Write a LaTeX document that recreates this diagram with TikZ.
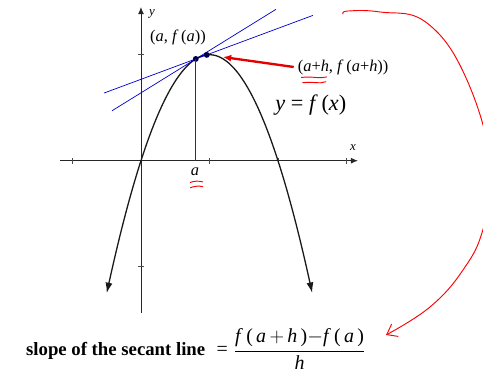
\documentclass[tikz,border=0pt]{standalone}
\usepackage{fontspec}
\setmainfont{Liberation Serif}
\usetikzlibrary{arrows.meta}
\tikzset{
  axisline/.style={line width=0.8pt, draw=black!85, -{Latex[length=6pt,width=5pt]}},
  axistick/.style={line width=0.6pt, draw=black!70},
  curveline/.style={line width=1.1pt, draw=black!90, {Latex[length=9pt,width=6pt]}-{Latex[length=9pt,width=6pt]}},
  chordline/.style={line width=0.6pt, draw=blue!80!black},
  dropline/.style={line width=0.5pt, draw=black!80},
  ptdot/.style={circle, fill=blue!30!black, inner sep=0pt, minimum size=5pt},
  ptlabel/.style={font=\fontsize{14}{16}\selectfont},
  axislabel/.style={font=\fontsize{11}{13}\selectfont\itshape},
  pointer/.style={line width=2pt, draw=red!90!black, -{Latex[length=7pt,width=6pt]}},
  markup/.style={line width=0.8pt, draw=red, line cap=round},
  swoop/.style={line width=0.8pt, draw=red, line cap=round, -{Straight Barb[length=8pt,width=12pt]}},
}
\begin{document}
\begin{tikzpicture}[x=2.055cm, y=3.18cm]
\useasboundingbox (-2.058,-2.031) rectangle (4.993,1.516);
\coordinate (xneg) at (-1.182,0);
\coordinate (xpos) at (3.168,0);
\coordinate (yneg) at (0,-1.437);
\coordinate (ypos) at (0,1.450);
\draw[axisline] (xneg) -- (xpos);
\draw[axisline] (yneg) -- (ypos);
\foreach \t in {-1,1,2,3} \draw[axistick] (\t,-0.028) -- (\t,0.028);
\foreach \t in {-1,1} \draw[axistick] (-0.044,\t) -- (0.044,\t);
\draw[curveline] plot[domain=-0.5:2.5, samples=61, smooth] (\x,{\x*(2-\x)});
\coordinate (tanL) at (-0.423,0.471);
\coordinate (tanR) at (1.971,1.428);
\coordinate (secL) at (-0.540,0.638);
\coordinate (secR) at (2.511,1.371);
\draw[chordline] (tanL) -- (tanR);
\draw[chordline] (secL) -- (secR);
\coordinate (afoot) at (0.8,0);
\node[ptdot] (pa) at (0.8,0.96) {};
\node[ptdot] (pah) at (0.96,0.998) {};
\draw[dropline] (pa.center) -- (afoot);
\node[axislabel] (xlab) at (3.095,0.12) {x};
\node[axislabel] (ylab) at (0.16,1.384) {y};
\node[ptlabel] (laba) at (0.54,1.167) {(\textit{a}, \textit{f}\,(\textit{a}))};
\node[ptlabel, anchor=west] (labah) at (2.23,0.884) {(\textit{a}+\textit{h}, \textit{f}\,(\textit{a}+\textit{h}))};
\node[font=\fontsize{19}{22}\selectfont] (labf) at (2.48,0.525) {\textit{y} = \textit{f}\,(\textit{x})};
\node[ptlabel] (labx) at (0.788,-0.107) {\textit{a}};
\coordinate (ptip) at (1.197,0.978);
\draw[pointer] (labah.west) -- (ptip);
\draw[markup] (2.34,0.785) .. controls (2.5,0.80) and (2.6,0.77) .. (2.71,0.79);
\draw[markup] (2.36,0.735) .. controls (2.5,0.75) and (2.6,0.72) .. (2.70,0.745);
\draw[markup] (0.72,-0.205) .. controls (0.78,-0.19) and (0.85,-0.19) .. (0.90,-0.20);
\draw[markup] (0.72,-0.255) .. controls (0.78,-0.24) and (0.85,-0.235) .. (0.90,-0.245);
\draw[swoop] plot[smooth, tension=0.7] coordinates {(2.949,1.384) (3.022,1.412) (3.489,1.403) (4.175,1.299) (4.759,0.761) (5.124,-0.088) (4.993,-0.648) (4.701,-1.031) (4.219,-1.380) (3.577,-1.644)};
\node[anchor=base west, font=\fontsize{16}{19}\selectfont] (slope) at (-1.737,-1.842) {\textbf{slope of the secant line}};
\node[anchor=base west, font=\fontsize{17}{20}\selectfont, inner sep=0pt] (secfrac) at ([xshift=6pt]slope.base east) {=\hspace{5pt}$\displaystyle\frac{\mbox{\textit{f}\,(\,\textit{a}\,$+$\,\textit{h}\,)$-$\textit{f}\,(\,\textit{a}\,)}}{\mbox{\textit{h}}}$};
\end{tikzpicture}
\end{document}
